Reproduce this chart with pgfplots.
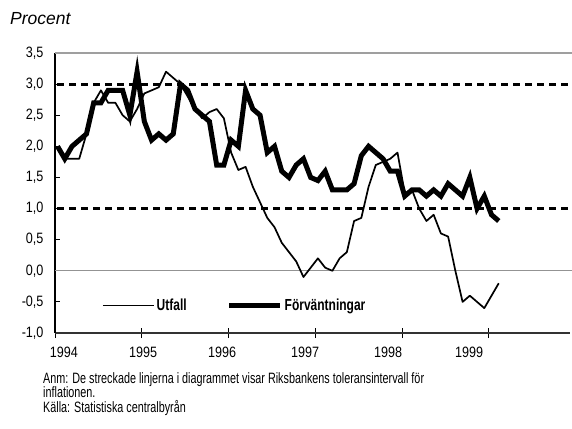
\documentclass[border=0pt]{standalone}
\usepackage{pgfplots}
\usepackage{pgfplotstable}
\pgfplotsset{compat=1.18}
\usepackage{fontspec}
\setmainfont{Liberation Sans}
\newfontfamily\cond{Liberation Sans}[FakeStretch=0.72]
\newfontfamily\condt{Liberation Sans}[FakeStretch=0.84]
\newfontfamily\condb{Liberation Sans Bold}[FakeStretch=0.75]

\pgfplotstableread{
i v
0 2.0
1 1.8
2 1.8
3 1.8
4 2.2
5 2.7
6 2.9
7 2.7
8 2.7
9 2.5
10 2.4
11 2.6
12 2.85
13 2.9
14 2.95
15 3.2
16 3.1
17 3.0
18 2.8
19 2.6
20 2.45
21 2.55
22 2.6
23 2.45
24 1.9
25 1.62
26 1.67
27 1.35
28 1.1
29 0.85
30 0.7
31 0.45
32 0.3
33 0.15
34 -0.1
35 0.05
36 0.2
37 0.05
38 0.0
39 0.2
40 0.3
41 0.8
42 0.85
43 1.35
44 1.7
45 1.75
46 1.8
47 1.9
48 1.25
49 1.3
50 1.0
51 0.8
52 0.9
53 0.6
54 0.55
55 0.0
56 -0.5
57 -0.4
58 -0.5
59 -0.6
60 -0.4
61 -0.2
}\utfall

\pgfplotstableread{
i v
0 2.0
1 1.8
2 2.0
3 2.1
4 2.2
5 2.7
6 2.7
7 2.9
8 2.9
9 2.9
10 2.5
11 3.2
12 2.4
13 2.1
14 2.2
15 2.1
16 2.2
17 3.0
18 2.9
19 2.6
20 2.5
21 2.4
22 1.7
23 1.7
24 2.1
25 2.0
26 2.9
27 2.6
28 2.5
29 1.9
30 2.0
31 1.6
32 1.5
33 1.7
34 1.8
35 1.5
36 1.45
37 1.6
38 1.3
39 1.3
40 1.3
41 1.4
42 1.85
43 2.0
44 1.9
45 1.8
46 1.6
47 1.6
48 1.2
49 1.3
50 1.3
51 1.2
52 1.3
53 1.2
54 1.4
55 1.3
56 1.2
57 1.5
58 1.0
59 1.2
60 0.9
61 0.8
}\forv

\begin{document}
\begin{tikzpicture}[x=1pt,y=1pt]
\useasboundingbox (0,0) rectangle (572,-428);
\node[anchor=base west, inner sep=0pt, font=\itshape\fontsize{17.5}{17.5}\selectfont] at (10,-25) {Procent};
\begin{axis}[
  at={(55pt,-333pt)}, anchor=south west,
  scale only axis, width=515pt, height=280pt,
  xmin=0, xmax=71.2, ymin=-1, ymax=3.5,
  axis x line*=bottom, axis y line*=left,
  axis line style={-},
  x axis line style={draw=black!80, line width=1.3pt},
  y axis line style={draw=black, line width=1.3pt},
  tick align=inside, major tick length=10pt,
  xtick={0,12,24,36,48,60}, xticklabels={,,,,,},
  xtick style={yshift=-5pt, draw=black, line width=1pt},
  ytick style={draw=black, line width=1pt, /pgfplots/major tick length=5pt},
  extra x ticks={1.24,12.17,23.1,34.57,46.04,57.24},
  extra x tick labels={1994,1995,1996,1997,1998,1999},
  extra x tick style={major tick length=0pt, xtick style={draw=none}},
  xticklabel style={font=\condt\fontsize{15}{15}\selectfont, anchor=base, yshift=-24pt},
  ytick={-1,-0.5,0,0.5,1,1.5,2,2.5,3,3.5},
  yticklabels={{-1,0},{-0,5},{0,0},{0,5},{1,0},{1,5},{2,0},{2,5},{3,0},{3,5}},
  yticklabel style={font=\condt\fontsize{15}{15}\selectfont, anchor=east, xshift=-8pt},
  legend columns=2,
  legend cell align=left,
  legend image code/.code={\draw[#1] (0pt,0pt) -- (51pt,0pt);},
  legend style={at={(axis cs:6.5,-0.56)}, anchor=west, draw=none, fill=none,
    inner sep=0pt, outer sep=0pt,
    nodes={inner sep=0pt, font=\condb\fontsize{16}{16}\selectfont},
    /tikz/every odd column/.style={column sep=2pt},
    /tikz/every even column/.style={column sep=40pt}},
  clip=false,
]
\addplot[forget plot, draw=gray!75, line width=1.3pt] coordinates {(0,3.5) (72.2,3.5)};
\addplot[forget plot, draw=gray!85, line width=1.3pt] coordinates {(0,0) (72.2,0)};
\addplot[forget plot, draw=black, line width=3pt, dash pattern=on 7pt off 5pt] coordinates {(0.3,3) (71.0,3)};
\addplot[forget plot, draw=black, line width=3pt, dash pattern=on 7pt off 5pt] coordinates {(0.3,1) (71.0,1)};
\addplot[black, line width=1.7pt, line join=round] table[x expr=\thisrow{i}+0.35, y=v] {\utfall};
\addlegendentry{Utfall}
\addplot[black, line width=5pt, line join=miter] table[x expr=\thisrow{i}+0.35, y=v] {\forv};
\addlegendentry{Förväntningar}
\end{axis}
\begin{scope}[font=\cond\fontsize{15}{15}\selectfont]
\node[anchor=base west, inner sep=0pt] at (43,-383) {Anm: De streckade linjerna i diagrammet visar Riksbankens toleransintervall för};
\node[anchor=base west, inner sep=0pt] at (43,-397.5) {inflationen.};
\node[anchor=base west, inner sep=0pt] at (43,-412) {Källa: Statistiska centralbyrån};
\end{scope}
\end{tikzpicture}
\end{document}
